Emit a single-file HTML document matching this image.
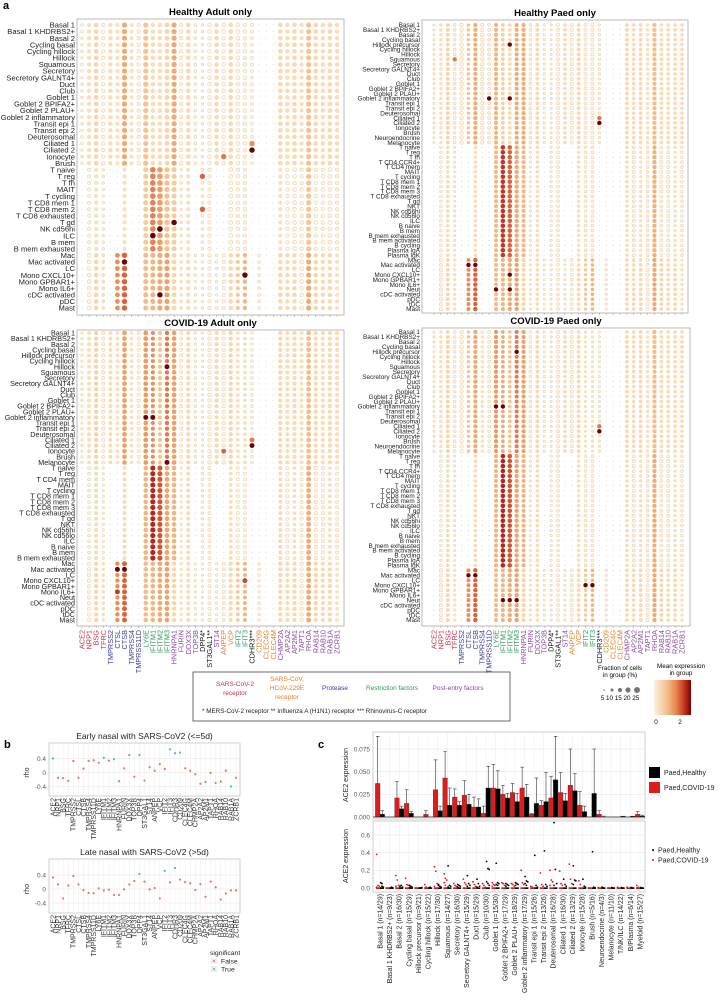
<!DOCTYPE html>
<html><head><meta charset="utf-8">
<style>
html,body{margin:0;padding:0;background:#fff;}
svg{display:block;font-family:"Liberation Sans",Arial,sans-serif;}
</style></head>
<body>
<svg id="fig" width="720" height="1003" viewBox="0 0 720 1003" xmlns="http://www.w3.org/2000/svg">
<text x="3" y="9" font-size="11" font-weight="bold">a</text>
<text x="4" y="748" font-size="11" font-weight="bold">b</text>
<text x="318" y="748" font-size="11" font-weight="bold">c</text>

<g>
<rect x="193" y="672" width="317" height="49" fill="#fff" stroke="#444" stroke-width="0.8"/>
<text x="235" y="686" font-size="6.5" fill="#c8324a" text-anchor="middle">SARS-CoV-2</text>
<text x="235" y="695" font-size="6.5" fill="#c8324a" text-anchor="middle">receptor</text>
<text x="287" y="681" font-size="6.5" fill="#e0802a" text-anchor="middle">SARS-CoV,</text>
<text x="287" y="690" font-size="6.5" fill="#e0802a" text-anchor="middle">HCoV-229E</text>
<text x="287" y="699" font-size="6.5" fill="#e0802a" text-anchor="middle">receptor</text>
<text x="335" y="690" font-size="6.5" fill="#3b3b96" text-anchor="middle">Protease</text>
<text x="392" y="690" font-size="6.5" fill="#2a9a55" text-anchor="middle">Restriction factors</text>
<text x="458" y="690" font-size="6.5" fill="#8a4aa0" text-anchor="middle">Post-entry factors</text>
<text x="202" y="713" font-size="6.3" fill="#222">* MERS-CoV-2 receptor  ** Influenza A (H1N1) receptor  *** Rhinovirus-C receptor</text>
</g>

<g>
<text x="620" y="670" font-size="6.3" text-anchor="middle">Fraction of cells</text>
<text x="620" y="677" font-size="6.3" text-anchor="middle">in group (%)</text>
<circle cx="604" cy="690" r="0.8" fill="#777"/>
<circle cx="612" cy="690" r="1.5" fill="#777"/>
<circle cx="620" cy="690" r="2.1" fill="#777"/>
<circle cx="628" cy="690" r="2.6" fill="#777"/>
<circle cx="637" cy="690" r="3.0" fill="#777"/>
<text x="620" y="700" font-size="6.3" text-anchor="middle">5 10 15 20 25</text>
</g>
<g>
<text x="681" y="668" font-size="6.3" text-anchor="middle">Mean expression</text>
<text x="681" y="675" font-size="6.3" text-anchor="middle">in group</text>
<defs><linearGradient id="cg" x1="0" x2="1" y1="0" y2="0">
<stop offset="0" stop-color="#fdf0e0"/><stop offset="0.35" stop-color="#f4c08c"/><stop offset="0.6" stop-color="#e88450"/><stop offset="0.8" stop-color="#c93a22"/><stop offset="1" stop-color="#7a0000"/></linearGradient></defs>
<rect x="654" y="680" width="37" height="35" fill="url(#cg)"/>
<text x="656" y="724" font-size="6.3" text-anchor="middle">0</text>
<text x="680" y="724" font-size="6.3" text-anchor="middle">2</text>
</g>

<g id="dots"></g>
<g id="panelb"></g>
<g id="panelc"></g>
</svg>

<script>
const NS="http://www.w3.org/2000/svg";
const svg=document.getElementById('fig');
function mk(tag,attrs,parent,txt){const e=document.createElementNS(NS,tag);for(const k in attrs)e.setAttribute(k,attrs[k]);if(txt!==undefined)e.textContent=txt;(parent||svg).appendChild(e);return e;}

const GENES=["ACE2","NRP1","BSG","TFRC","TMPRSS2","CTSL","CTSB","TMPRSS4","TMPRSS11D","LY6E","IFITM1","IFITM2","IFITM3","HNRNPA1","FURIN","DDX3X","TOP3B","DPP4*","ST3GAL1**","ST14","ANPEP","VCP","IFIT2","IFIT3","CDHR3***","CD209","CLEC4G","CLEC4M","CHMP2A","AP2A2","AP2M1","TAPT1","RHOA","RAB14","RAB10","RAB1A","ZCRB1"];
const GENE_CAT=["r","r","r","r","b","b","b","b","b","g","g","g","g","p","p","p","p","k","k","p","o","o","g","g","k","o","o","o","p","p","p","p","p","p","p","p","p"];
const CAT_COLOR={r:"#c8324a",b:"#3b3b96",g:"#2a9a55",p:"#8a4aa0",k:"#111",o:"#e0802a"};

const ROWS_HA=["Basal 1","Basal 1 KHDRBS2+","Basal 2","Cycling basal","Cycling hillock","Hillock","Squamous","Secretory","Secretory GALNT4+","Duct","Club","Goblet 1","Goblet 2 BPIFA2+","Goblet 2 PLAU+","Goblet 2 inflammatory","Transit epi 1","Transit epi 2","Deuterosomal","Ciliated 1","Ciliated 2","Ionocyte","Brush","T naive","T reg","T fh","MAIT","T cycling","T CD8 mem 1","T CD8 mem 2","T CD8 exhausted","T gd","NK cd56hi","ILC","B mem","B mem exhausted","Mac","Mac activated","LC","Mono CXCL10+","Mono GPBAR1+","Mono IL6+","cDC activated","pDC","Mast"];
const ROWS_HP=["Basal 1","Basal 1 KHDRBS2+","Basal 2","Cycling basal","Hillock precursor","Cycling hillock","Hillock","Squamous","Secretory","Secretory GALNT4+","Duct","Club","Goblet 1","Goblet 2 BPIFA2+","Goblet 2 PLAU+","Goblet 2 inflammatory","Transit epi 1","Transit epi 2","Deuterosomal","Ciliated 1","Ciliated 2","Ionocyte","Brush","Neuroendocrine","Melanocyte","T naive","T reg","T fh","T CD4 CCR4+","T CD4 mem","MAIT","T cycling","T CD8 mem 1","T CD8 mem 2","T CD8 mem 3","T CD8 exhausted","T gd","NKT","NK cd56hi","NK cd56lo","ILC","B naive","B mem","B mem exhausted","B mem activated","B cycling","Plasma IgA","Plasma IgK","Mac","Mac activated","LC","Mono CXCL10+","Mono GPBAR1+","Mono IL6+","Neut","cDC activated","pDC","tDC","Mast"];
const ROWS_CA=["Basal 1","Basal 1 KHDRBS2+","Basal 2","Cycling basal","Hillock precursor","Cycling hillock","Hillock","Squamous","Secretory","Secretory GALNT4+","Duct","Club","Goblet 1","Goblet 2 BPIFA2+","Goblet 2 PLAU+","Goblet 2 inflammatory","Transit epi 1","Transit epi 2","Deuterosomal","Ciliated 1","Ciliated 2","Ionocyte","Brush","Melanocyte","T naive","T reg","T CD4 mem","MAIT","T cycling","T CD8 mem 1","T CD8 mem 2","T CD8 mem 3","T CD8 exhausted","T gd","NKT","NK cd56hi","NK cd56lo","ILC","B naive","B mem","B mem exhausted","Mac","Mac activated","LC","Mono CXCL10+","Mono GPBAR1+","Mono IL6+","Neut","cDC activated","pDC","tDC","Mast"];
const ROWS_CP=ROWS_HP;

const EPI_EXP_HA=[0.05,0.5,0.7,0.2,0.5,0.4,1.5,0.4,0.2,1.1,0.5,0.5,0.7,1.5,0.2,0.6,0.1,0.1,0.3,0.6,0.3,0.6,0.3,0.3,0.1,0,0,0,0.6,0.5,0.6,0.5,1.1,0.6,0.5,0.6,0.5];
const EPI_EXP_HP=[0.05,0.4,0.8,0.2,0.3,1.1,1.4,0.3,0.2,1.3,0.9,0.6,1.5,1.4,0.2,0.6,0.1,0.1,0.2,0.5,0.3,0.6,0.2,0.2,0.1,0,0,0,0.6,0.5,0.6,0.4,1.2,0.5,0.5,0.5,0.5];
const EPI_EXP_CA=[0.05,0.5,0.8,0.2,0.5,0.4,1.6,0.4,0.2,1.7,1.8,1.1,2.0,1.6,0.2,0.6,0.1,0.1,0.3,0.6,0.3,0.7,0.5,0.5,0.1,0,0,0,0.6,0.5,0.6,0.5,1.2,0.6,0.5,0.6,0.5];
const EPI_EXP_CP=[0.05,0.4,0.8,0.2,0.3,1.1,1.5,0.4,0.2,1.7,1.5,1.1,2.0,1.6,0.2,0.6,0.1,0.1,0.2,0.5,0.3,0.6,0.4,0.4,0.1,0,0,0,0.6,0.5,0.6,0.4,1.2,0.5,0.5,0.5,0.5];
const EPI_FRAC=[2,10,12,5,10,8,16,8,5,16,11,11,13,16,5,12,3,2,7,11,7,12,7,7,3,1,1,1,12,11,12,9,16,12,11,12,11];
const IMM_EXP=[0,0.2,0.5,0.1,0,0.05,0.5,0,0,1.2,2.4,2.1,1.4,1.2,0.1,0.5,0.05,0.3,0.3,0,0,0.4,0.3,0.3,0,0,0,0,0.5,0.3,0.4,0.3,1.3,0.3,0.3,0.4,0.3];
const IMM_FRAC=[0,4,10,2,0,1,9,0,0,15,20,20,17,15,2,9,1,3,5,0,1,9,5,5,0,0,0,0,9,6,8,5,17,6,6,8,5];
const MYE_EXP=[0,0.3,0.7,0.4,0,1.8,2.2,0,0,1.2,1.3,1.5,1.6,0.7,0.4,0.5,0.05,0.05,0.3,0.05,0.3,0.6,1.0,1.3,0,0.2,0.05,0.05,0.6,0.6,0.6,0.3,1.5,0.7,0.6,0.6,0.4];
const MYE_FRAC=[1,8,12,8,1,13,18,1,1,15,15,16,16,13,6,10,2,2,5,2,5,11,8,10,0,3,1,1,11,10,11,7,16,11,10,11,8];
const IMM_SCALE=[0.8,1.05,1.1,1.1];

const HOT_HA=[["Ciliated 2",24,3],["Ciliated 1",24,1.8],["Mac activated",6,3],["Mono CXCL10+",23,3],["cDC activated",11,3],["T gd",13,3],["NK cd56hi",11,3],["ILC",10,3],["T CD8 mem 2",17,2.2],["T reg",17,2.2],["Ionocyte",20,2]];
const HOT_HP=[["Ciliated 2",24,3],["Ciliated 1",24,2],["Squamous",3,2],["Goblet 2 inflammatory",8,3],["Goblet 2 inflammatory",11,3],["Hillock precursor",11,3],["Neut",9,3],["Neut",11,3],["Mac activated",5,3],["Mac activated",6,3],["Mono CXCL10+",11,3]];
const HOT_CA=[["Ciliated 2",24,3],["Ciliated 1",24,2],["Mac activated",5,3],["Mac activated",6,3],["Mono IL6+",5,2.5],["Melanocyte",12,3],["Hillock",12,3],["Goblet 2 inflammatory",9,3],["Goblet 2 inflammatory",10,3],["Ionocyte",20,2.2],["Mono CXCL10+",23,2.4]];
const HOT_CP=[["Ciliated 2",24,3],["Ciliated 1",24,2],["Hillock precursor",12,3],["Goblet 2 inflammatory",9,3],["Goblet 2 inflammatory",10,3],["Mac activated",5,3],["Mac activated",6,3],["Mono CXCL10+",22,3],["Mono CXCL10+",23,3],["Neut",10,3],["Neut",11,3],["Neut",12,3]];

const MYELOID=["Mac","Mac activated","LC","Mono CXCL10+","Mono GPBAR1+","Mono IL6+","Neut","cDC activated","pDC","tDC","Mast"];
const IMMUNE_PREFIX=["T ","MAIT","NK","ILC","B ","Plasma"];
function rowType(n){if(MYELOID.includes(n))return "m";for(const p of IMMUNE_PREFIX){if(n.startsWith(p))return "i";}return "e";}

const STOPS=[[0,[252,236,214]],[0.3,[246,208,160]],[0.55,[236,160,100]],[0.75,[214,95,55]],[0.9,[172,30,18]],[1,[110,0,0]]];
function colorOf(e){let t=Math.max(0,Math.min(1,e/3));for(let i=1;i<STOPS.length;i++){if(t<=STOPS[i][0]){const a=STOPS[i-1],b=STOPS[i];const f=(t-a[0])/(b[0]-a[0]);const c=a[1].map((v,k)=>Math.round(v+(b[1][k]-v)*f));return `rgb(${c[0]},${c[1]},${c[2]})`;}}return "rgb(110,0,0)";}

const dotsG=document.getElementById('dots');
function dotPanel(cfg,idx){
  const g=mk('g',{},dotsG);
  
  
  mk('rect',{x:cfg.x0,y:cfg.y0,width:cfg.x1-cfg.x0,height:cfg.y1-cfg.y0,fill:'#fff',stroke:'#aaa','stroke-width':0.8},g);
  const t=mk('text',{x:(cfg.x0+cfg.x1)/2,y:cfg.y0-4,'font-size':9.5,'font-weight':'bold','text-anchor':'middle'},g,cfg.title);
  
  
  const n=cfg.rows.length;
  const ry=i=>cfg.r0+i*(cfg.rN-cfg.r0)/(n-1);
  const cx=j=>cfg.c0+j*(cfg.cN-cfg.c0)/(GENES.length-1);
  const hot={};cfg.hot.forEach(h=>{hot[h[0]+'|'+h[1]]=h[2];});
  cfg.rows.forEach((rn,i)=>{
    const lb=mk('text',{x:cfg.x0-2,y:ry(i)+cfg.fs*0.35,'font-size':cfg.fs,'text-anchor':'end',fill:'#222'},g,rn);
    
    
    const ty=rowType(rn);
    GENES.forEach((gn,j)=>{
      let e,f;
      if(ty==='e'){e=cfg.epi[j];f=EPI_FRAC[j];}
      else if(ty==='i'){e=IMM_EXP[j]*IMM_SCALE[idx];f=IMM_FRAC[j];}
      else {e=MYE_EXP[j];f=MYE_FRAC[j];}
      const hk=rn+'|'+j;if(hot[hk]!==undefined){e=hot[hk];f=Math.max(f,18);}
      let c;
      if(f<2){c=mk('circle',{cx:cx(j),cy:ry(i),r:0.55,fill:'#d9d9d9'},g);}
      else{
        const r=0.6+Math.sqrt(Math.min(f,25)/25)*(cfg.rmax-0.6);
        const open=e<0.4;
        c=mk('circle',{cx:cx(j),cy:ry(i),r:r,fill:open?'#fdf3e6':colorOf(e),stroke:open?'#ebcda5':'none','stroke-width':0.55},g);
      }
      
      
    });
  });
  GENES.forEach((gn,j)=>{mk('line',{x1:cx(j),x2:cx(j),y1:cfg.y1,y2:cfg.y1+2,stroke:'#999','stroke-width':0.5},g);});
  if(cfg.labels){
    GENES.forEach((gn,j)=>{
      const tl=mk('text',{transform:`translate(${cx(j)+2.5},${cfg.y1+4}) rotate(-90)`,'font-size':7.3,'text-anchor':'end',fill:CAT_COLOR[GENE_CAT[j]]},g,gn);
      
      
    });
  }
}
dotPanel({name:'dotplot-healthy-adult',title:'Healthy Adult only',x0:77,x1:344,y0:19,y1:315,r0:25,rN:308,c0:82,cN:337,rows:ROWS_HA,epi:EPI_EXP_HA,hot:HOT_HA,rmax:3.1,fs:7.6,labels:false},0);
dotPanel({name:'dotplot-healthy-paed',title:'Healthy Paed only',x0:422,x1:688,y0:20,y1:313,r0:25,rN:309,c0:434,cN:682,rows:ROWS_HP,epi:EPI_EXP_HP,hot:HOT_HP,rmax:2.5,fs:6.4,labels:false},1);
dotPanel({name:'dotplot-covid-adult',title:'COVID-19 Adult only',x0:77,x1:344,y0:330,y1:626,r0:333,rN:620,c0:82,cN:337,rows:ROWS_CA,epi:EPI_EXP_CA,hot:HOT_CA,rmax:2.8,fs:7.2,labels:true},2);
dotPanel({name:'dotplot-covid-paed',title:'COVID-19 Paed only',x0:422,x1:690,y0:328,y1:626,r0:332,rN:620,c0:434,cN:682,rows:ROWS_CP,epi:EPI_EXP_CP,hot:HOT_CP,rmax:2.5,fs:6.4,labels:true},3);

/* ---------- panel b ---------- */
const RHO_EARLY=[0.4,-0.15,-0.16,-0.24,0.33,-0.15,0.11,0.33,0.35,0.28,0.42,0.34,0.38,-0.25,0.12,0.5,-0.12,0.5,-0.23,0.15,0.05,0.24,0.1,0.66,0.55,0.57,0.12,0.05,-0.05,-0.32,-0.27,-0.01,-0.3,-0.26,0.05,-0.4,-0.15];
const SIG_EARLY=[1,0,0,0,0,0,0,0,0,0,1,0,1,0,0,1,0,1,0,0,0,0,0,1,1,1,0,0,0,0,0,0,0,0,0,1,0];
const RHO_LATE=[0.33,0.13,-0.27,0.1,0.37,0.13,-0.03,-0.11,-0.12,0.02,-0.04,-0.02,-0.17,-0.17,-0.01,0.13,0.23,0.43,0.21,-0.01,0.03,-0.27,0.52,0.19,0.6,0.27,0.2,0.16,-0.03,0.14,-0.22,0.21,0.05,-0.3,-0.13,-0.04,-0.04];
const SIG_LATE=[0,0,0,0,0,0,0,0,0,0,0,0,0,0,0,0,0,1,0,0,0,0,1,0,1,0,0,0,0,0,0,0,0,0,0,0,0];
const B_TICKS=[0.4,0,-0.4];
const B_TICK_LABELS=["0.4","0","-0.4"];
const pb=document.getElementById('panelb');
function rhoPlot(title,y0,y1,vals,sig,nm){
  const g=mk('g',{},pb);
  
  
  const x0=49,x1=240;
  const yS=v=>(y0+y1)/2+3-v*35;
  const xS=i=>x0+4+i*(x1-x0-8)/(GENES.length-1);
  mk('text',{x:(x0+x1)/2,y:y0-4,'font-size':8.5,'text-anchor':'middle',fill:'#222'},g,title);
  mk('rect',{x:x0,y:y0,width:x1-x0,height:y1-y0,fill:'#fff',stroke:'#bbb','stroke-width':0.7},g);
  GENES.forEach((gn,i)=>{mk('line',{x1:xS(i),x2:xS(i),y1:y0,y2:y1,stroke:'#eee','stroke-width':0.5},g);});
  B_TICKS.forEach((t,k)=>{
    mk('line',{x1:x0,x2:x1,y1:yS(t),y2:yS(t),stroke:'#e6e6e6','stroke-width':0.6},g);
    mk('text',{x:x0-3,y:yS(t)+2.3,'font-size':6.5,'text-anchor':'end',fill:'#555'},g,B_TICK_LABELS[k]);
  });
  mk('text',{transform:`translate(${x0-20},${yS(0)}) rotate(-90)`,'font-size':7,'text-anchor':'middle',fill:'#222'},g,'rho');
  vals.forEach((v,i)=>{
    const p=mk('circle',{cx:xS(i),cy:yS(v),r:1.1,fill:sig[i]?'#3fbfc4':'#e8736c'},g);
    
    
  });
  GENES.forEach((gn,i)=>{
    const tl=mk('text',{transform:`translate(${xS(i)+2.4},${y1+2}) rotate(-90)`,'font-size':7,'text-anchor':'end',fill:'#333'},g,gn.replace(/\*/g,''));
    
    
  });
}
rhoPlot('Early nasal with SARS-CoV2 (<=5d)',743,796,RHO_EARLY,SIG_EARLY,'early-nasal-plot');
rhoPlot('Late nasal with SARS-CoV2 (>5d)',859,913,RHO_LATE,SIG_LATE,'late-nasal-plot');
(function(){
  const g=mk('g',{},pb);
  
  
  mk('text',{x:210,y:955,'font-size':6.8,fill:'#222'},g,'significant');
  mk('rect',{x:211,y:958,width:6,height:6,fill:'#ececec'},g);
  mk('circle',{cx:214,cy:961,r:1,fill:'#e8736c'},g);
  mk('text',{x:221,y:963.5,'font-size':6.8,fill:'#222'},g,'False');
  mk('rect',{x:211,y:966,width:6,height:6,fill:'#ececec'},g);
  mk('circle',{cx:214,cy:969,r:1,fill:'#3fbfc4'},g);
  mk('text',{x:221,y:971.5,'font-size':6.8,fill:'#222'},g,'True');
})();

/* ---------- panel c ---------- */
const C_CATS=["Basal 1 (n=14/29)","Basal 1 KHDRBS2+ (n=9/23)","Basal 2 (n=16/30)","Cycling basal (n=15/29)","Hillock precursor (n=9/21)","Cycling hillock (n=15/22)","Hillock (n=17/30)","Squamous (n=14/27)","Secretory (n=16/30)","Secretory GALNT4+ (n=15/29)","Duct (n=15/29)","Club (n=10/30)","Goblet 1 (n=15/30)","Goblet 2 BPIFA2+ (n=17/29)","Goblet 2 PLAU+ (n=18/29)","Goblet 2 inflammatory (n=17/29)","Transit epi 1 (n=15/26)","Transit epi 2 (n=13/26)","Deuterosomal (n=16/28)","Ciliated 1 (n=16/30)","Ciliated 2 (n=13/29)","Ionocyte (n=15/28)","Brush (n=5/16)","Neuroendocrine (n=4/3)","Melanocyte (n=11/10)","T/NK/ILC (n=14/22)","B/Plasma (n=6/14)","Myeloid (n=15/27)"];
const BAR_H=[.003,0,.009,.004,0,0,.007,.013,.013,.014,.011,.032,.031,.021,.017,.022,.015,.017,.041,.018,.029,.006,.026,0,0,.001,.001,.001];
const ERR_H=[.007,0,.012,.006,0,0,.012,.032,.017,.025,.02,.056,.051,.026,.026,.036,.043,.049,.089,.026,.048,.012,.075,.001,0,.001,.001,.002];
const BAR_C=[.037,0,.021,.015,0,.003,.030,.043,.022,.024,.011,.004,.032,.025,.027,.032,.003,.013,.021,.027,.035,.013,0,.003,0,0,0,.003];
const ERR_C=[.089,0,.039,.030,0,.007,.063,.072,.031,.040,.022,.012,.058,.035,.037,.055,.004,.018,.045,.049,.075,.028,0,.007,0,0,0,.006];
const PTS_H=[[0.06,0.05,0.01,0,0.02],[0,0.01,0],[0.02,0.03,0.01,0],[0.03,0.02,0.01,0.005],[0,0,0.005],[0,0.01],[0.03,0.02,0.01,0.04],[0.25,0.03,0.02,0.01],[0.04,0.03,0.02,0.01],[0.14,0.05,0.03,0.02],[0.10,0.05,0.02,0.01],[0.3,0.22,0.21,0.07,0.05,0.03],[0.28,0.06,0.05,0.04,0.03],[0.05,0.04,0.03,0.02],[0.06,0.05,0.04,0.03],[0.13,0.08,0.07,0.05,0.03],[0.37,0.03,0.01],[0.42,0.04,0.02],[0.74,0.21,0.05,0.03],[0.1,0.04,0.02],[0.25,0.09,0.08,0.04],[0.1,0.02,0.01],[0.41,0.01,0],[0.01,0],[0.005,0],[0.005,0],[0.005,0],[0.005,0]];
const PTS_C=[[0.38,0.03,0.02,0.01],[0,0],[0.14,0.09,0.03,0.02],[0.11,0.04,0.03],[0,0],[0.04,0.01],[0.24,0.19,0.05,0.02],[0.16,0.11,0.09,0.06,0.03],[0.05,0.03,0.02],[0.1,0.06,0.04],[0.07,0.04,0.02],[0.05,0.03,0.01],[0.06,0.04,0.03,0.02],[0.06,0.05,0.03],[0.05,0.04,0.02],[0.2,0.06,0.04],[0.02,0.01],[0.17,0.04,0.02],[0.2,0.09,0.07,0.03],[0.19,0.05,0.03],[0.27,0.1,0.05],[0.08,0.04],[0,0],[0.005],[0,0],[0.01],[0.01],[0.03,0.01]];
const C_TOP_TICKS=[0,0.025,0.05,0.075];
const C_TOP_LABELS=["0.000","0.025","0.050","0.075"];
const C_BOT_TICKS=[0,0.2,0.4,0.6];
const C_BOT_LABELS=["0.0","0.2","0.4","0.6"];
const pc=document.getElementById('panelc');
const CX0=373,CX1=645;
const cx=i=>380+i*9.63;
const yTop=v=>817-v/0.075*68;
const yBot=v=>888-v/0.6*53;
(function(){
  const g=mk('g',{},pc);
  
  
  mk('rect',{x:CX0,y:732,width:CX1-CX0,height:87,fill:'#fff',stroke:'#bbb','stroke-width':0.7},g);
  C_TOP_TICKS.forEach((t,k)=>{
    mk('line',{x1:CX0,x2:CX1,y1:yTop(t),y2:yTop(t),stroke:'#e6e6e6','stroke-width':0.6},g);
    mk('text',{x:CX0-3,y:yTop(t)+2.3,'font-size':6.5,'text-anchor':'end',fill:'#555'},g,C_TOP_LABELS[k]);
  });
  C_CATS.forEach((c,i)=>{mk('line',{x1:cx(i),x2:cx(i),y1:732,y2:819,stroke:'#eee','stroke-width':0.5},g);});
  mk('text',{transform:`translate(${348},${775}) rotate(-90)`,'font-size':7,'text-anchor':'middle',fill:'#222'},g,'ACE2 expression');
  C_CATS.forEach((c,i)=>{
    [[BAR_C[i],ERR_C[i],'#e01b1b',-2.3],[BAR_H[i],ERR_H[i],'#000',2.3]].forEach(b=>{
      const bx=cx(i)+b[3];
      if(b[1]>b[0]){
        mk('line',{x1:bx,x2:bx,y1:yTop(b[0]),y2:yTop(b[1]),stroke:'#333','stroke-width':0.6},g);
        mk('line',{x1:bx-1.8,x2:bx+1.8,y1:yTop(b[1]),y2:yTop(b[1]),stroke:'#333','stroke-width':0.6},g);
      }
      const r=mk('rect',{x:bx-2.3,y:yTop(b[0]),width:4.6,height:Math.max(0,yTop(0)-yTop(b[0])),fill:b[2],stroke:'#222','stroke-width':0.3},g);
      
      
    });
  });
  mk('line',{x1:CX0,x2:CX1,y1:yTop(0),y2:yTop(0),stroke:'#222','stroke-width':0.8},g);
  const lg=mk('g',{},g);
  
  
  mk('rect',{x:649,y:767,width:11,height:11,fill:'#000'},lg);
  mk('rect',{x:649,y:782,width:11,height:11,fill:'#e01b1b'},lg);
  mk('text',{x:664,y:775,'font-size':7,fill:'#222'},lg,'Paed,Healthy');
  mk('text',{x:664,y:790,'font-size':7,fill:'#222'},lg,'Paed,COVID-19');
})();
(function(){
  const g=mk('g',{},pc);
  
  
  mk('rect',{x:CX0,y:821,width:CX1-CX0,height:71,fill:'#fff',stroke:'#bbb','stroke-width':0.7},g);
  C_BOT_TICKS.forEach((t,k)=>{
    mk('line',{x1:CX0,x2:CX1,y1:yBot(t),y2:yBot(t),stroke:'#e6e6e6','stroke-width':0.6},g);
    mk('text',{x:CX0-3,y:yBot(t)+2.3,'font-size':6.5,'text-anchor':'end',fill:'#555'},g,C_BOT_LABELS[k]);
  });
  C_CATS.forEach((c,i)=>{mk('line',{x1:cx(i),x2:cx(i),y1:821,y2:892,stroke:'#eee','stroke-width':0.5},g);});
  mk('text',{transform:`translate(${348},${856}) rotate(-90)`,'font-size':7,'text-anchor':'middle',fill:'#222'},g,'ACE2 expression');
  C_CATS.forEach((c,i)=>{
    mk('rect',{x:cx(i)-4,y:yBot(0.008),width:4,height:yBot(0)-yBot(0.008)+1,fill:'#d42020'},g);
    mk('rect',{x:cx(i),y:yBot(0.008),width:4,height:yBot(0)-yBot(0.008)+1,fill:'#111'},g);
    PTS_C[i].forEach((v,k)=>{const p=mk('circle',{cx:cx(i)-2+(k%3-1)*1.3,cy:yBot(v),r:0.9,fill:'#e01b1b'},g);});
    PTS_H[i].forEach((v,k)=>{const p=mk('circle',{cx:cx(i)+2+(k%3-1)*1.3,cy:yBot(v),r:0.9,fill:'#000'},g);});
    const tl=mk('text',{transform:`translate(${cx(i)+2.4},${894}) rotate(-90)`,'font-size':6.9,'text-anchor':'end',fill:'#222'},g,c);
    
    
  });
  const lg=mk('g',{},g);
  
  
  mk('circle',{cx:653,cy:850,r:1,fill:'#000'},lg);
  mk('circle',{cx:653,cy:860,r:1,fill:'#e01b1b'},lg);
  mk('text',{x:658,y:852.5,'font-size':7,fill:'#222'},lg,'Paed,Healthy');
  mk('text',{x:658,y:862.5,'font-size':7,fill:'#222'},lg,'Paed,COVID-19');
})();
</script>
</body></html>
